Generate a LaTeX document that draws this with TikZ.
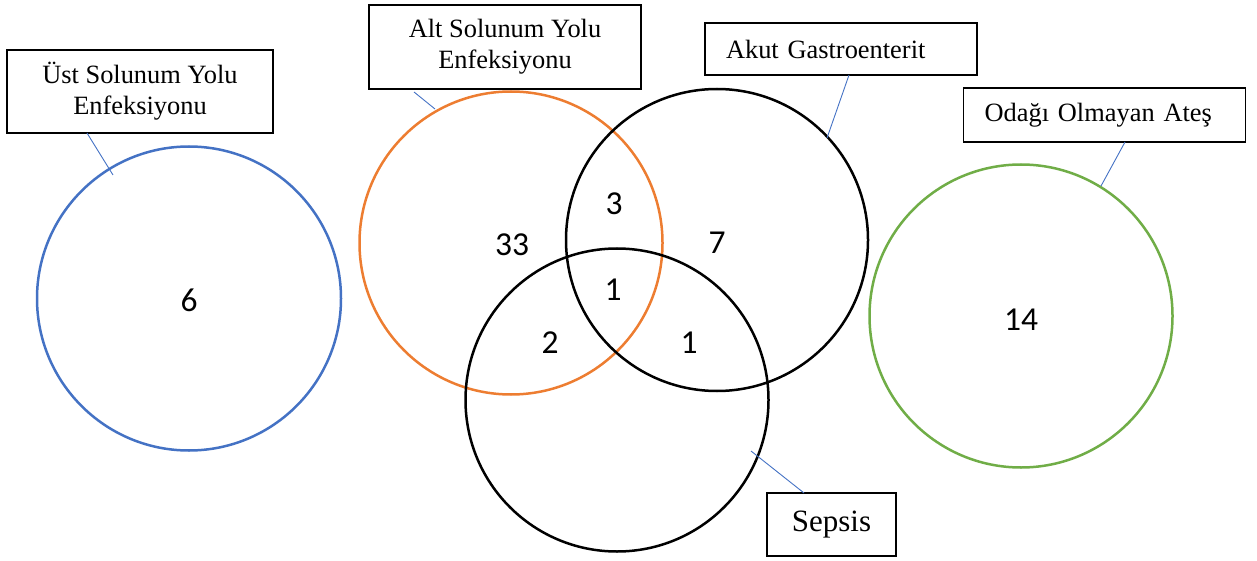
\documentclass[tikz,border=0pt]{standalone}
\usepackage{fontspec}
\setmainfont{Liberation Serif}
\newfontfamily\numfont{Carlito}
\usepackage{tikz}
\usetikzlibrary{calc}

\definecolor{ustblue}{HTML}{4472C4}
\definecolor{altorange}{HTML}{ED7D31}
\definecolor{atesgreen}{HTML}{70AD47}

\begin{document}
\begin{tikzpicture}[x=1pt,y=-1pt]
 \tikzstyle{set} = [circle,line width=2.5pt,inner sep=0pt];
 \tikzstyle{setB} = [draw=ustblue];
 \tikzstyle{setO} = [draw=altorange];
 \tikzstyle{setK} = [draw=black];
 \tikzstyle{setG} = [draw=atesgreen];
 \tikzstyle{box} = [draw=black,line width=1.2pt,fill=white,inner sep=0pt,
                    font=\fontsize{26.4}{31}\selectfont];
 \tikzstyle{leader} = [draw=ustblue,line width=0.9pt];
 \tikzstyle{count} = [inner sep=0pt,font=\numfont\fontsize{33.5}{38}\selectfont];

 \useasboundingbox (0,0) rectangle (1257,561);

 % sets
 \node[set,setB,minimum size=304pt] (ust) at (189,298.5) {};
 \node[set,setO,minimum size=303pt] (alt) at (511,243) {};
 \node[set,setK,minimum size=302pt] (akut) at (717,240) {};
 \node[set,setK,minimum size=303pt] (sepsis) at (617,400) {};
 \node[set,setG,minimum size=303pt] (ates) at (1021,316) {};

 % counts
 \node[count] (n6)  at (189,300) {6};
 \node[count] (n33) at (512,245) {33};
 \node[count] (n3)  at (614,204) {3};
 \node[count] (n7)  at (717,243) {7};
 \node[count] (n1a) at (613,290) {1};
 \node[count] (n2)  at (550,343) {2};
 \node[count] (n1b) at (689,343) {1};
 \node[count] (n14) at (1021,320) {14};

 % label boxes
 \node[box,minimum width=266pt,minimum height=83pt,align=center] (ustL) at (140,91.5)
                                        {Üst Solunum Yolu\\Enfeksiyonu};
 \node[box,minimum width=272pt,minimum height=84pt,align=center] (altL) at (505,47)
                                        {Alt Solunum Yolu\\Enfeksiyonu};
 \node[box,minimum width=272pt,minimum height=52pt,text width=230pt,inner xsep=21pt,
       align=left] (akutL) at (841,49)
                                        {Akut Gastroenterit};
 \node[box,minimum width=266pt,minimum height=54pt,text width=240pt,inner xsep=21pt,
       anchor=west,align=left] (atesL) at (963,115)
                                        {Odağı Olmayan Ateş};
 \node[box,minimum width=129pt,minimum height=63pt,font=\fontsize{31}{36}\selectfont]
       (sepsisL) at (831.5,524.5)
                                        {Sepsis};

 % leaders
 \coordinate (ustA) at (87,133);     \coordinate (ustB) at (113,175);
 \coordinate (altA) at (414,92);     \coordinate (altB) at (435,109);
 \coordinate (akutA) at (849,75);    \coordinate (akutB) at (827,138);
 \coordinate (atesA) at (1125,142);  \coordinate (atesB) at (1101,186);
 \coordinate (sepsisA) at (804,493); \coordinate (sepsisB) at (751,451);

 \path[leader] (ustA) -- (ustB);
 \path[leader] (altA) -- (altB);
 \path[leader] (akutA) -- (akutB);
 \path[leader] (atesA) -- (atesB);
 \path[leader] (sepsisA) -- (sepsisB);
\end{tikzpicture}
\end{document}
